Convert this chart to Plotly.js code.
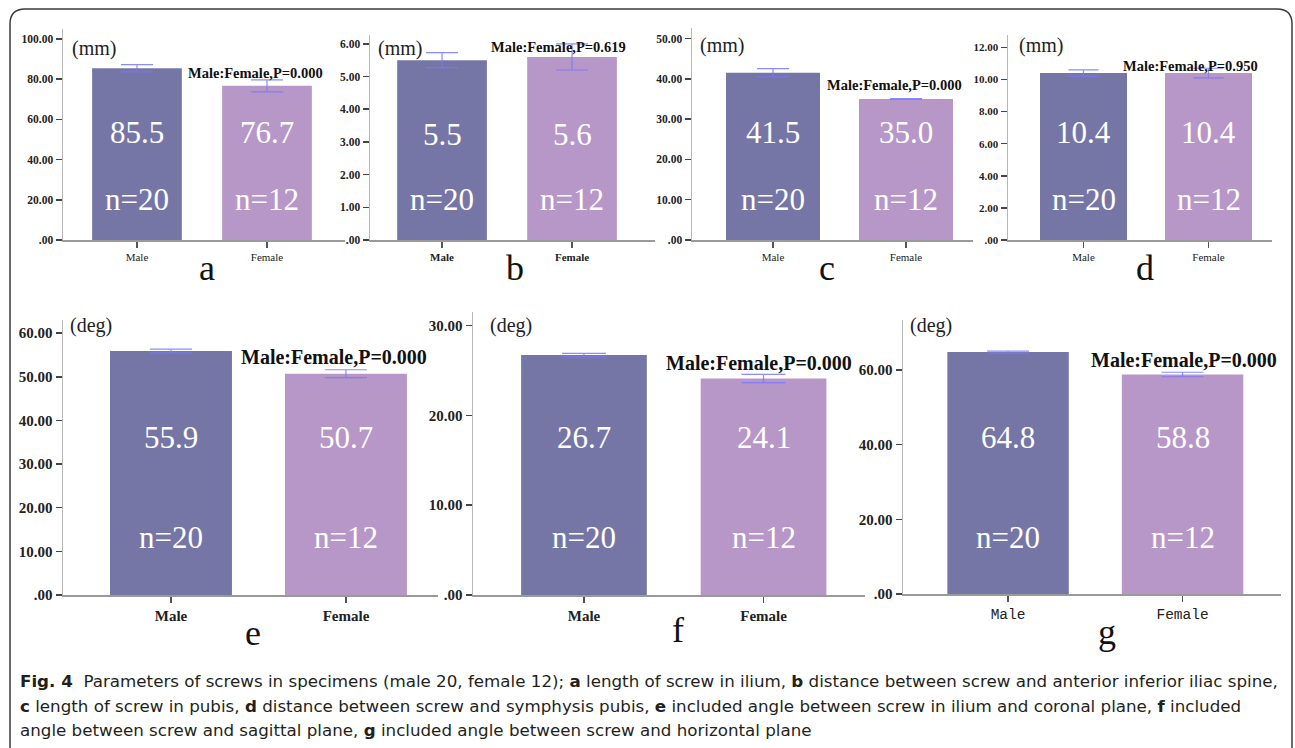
<!DOCTYPE html>
<html>
<head>
<meta charset="utf-8">
<script src="https://cdn.plot.ly/plotly-3.0.1.min.js"></script>
<style>html,body{margin:0;padding:0;background:#fff;}#chart{width:1295px;height:748px;}</style>
</head>
<body>
<div id="chart"></div>
<script>
// ---------------- data ----------------
const categories = ["Male", "Female"];
const nCounts = [20, 12];

const meansA = [85.5, 76.7];  const errA = [1.8, 3.0];
const meansB = [5.5, 5.6];    const errB = [0.23, 0.40];
const meansC = [41.5, 35.0];  const errC = [1.0, 0.1];
const meansD = [10.4, 10.4];  const errD = [0.2, 0.3];
const meansE = [55.9, 50.7];  const errE = [0.45, 0.9];
const meansF = [26.7, 24.1];  const errF = [0.2, 0.45];
const meansG = [64.8, 58.8];  const errG = [0.25, 0.6];

const ticksA = [0, 20, 40, 60, 80, 100];
const ticksB = [0, 1, 2, 3, 4, 5, 6];
const ticksC = [0, 10, 20, 30, 40, 50];
const ticksD = [0, 2, 4, 6, 8, 10, 12];
const ticksE = [0, 10, 20, 30, 40, 50, 60];
const ticksF = [0, 10, 20, 30];
const ticksG = [0, 20, 40, 60];

const pValues = ["0.000", "0.619", "0.000", "0.950", "0.000", "0.000", "0.000"];
const unitLabels = ["(mm)", "(mm)", "(mm)", "(mm)", "(deg)", "(deg)", "(deg)"];
const panelLetters = ["a", "b", "c", "d", "e", "f", "g"];

const captionLines = [
  "<b>Fig. 4</b>\u00a0\u00a0Parameters of screws in specimens (male 20, female 12); <b>a</b> length of screw in ilium, <b>b</b> distance between screw and anterior inferior iliac spine,",
  "<b>c</b> length of screw in pubis, <b>d</b> distance between screw and symphysis pubis, <b>e</b> included angle between screw in ilium and coronal plane, <b>f</b> included",
  "angle between screw and sagittal plane, <b>g</b> included angle between screw and horizontal plane"
];

// ---------------- layout config ----------------
const W = 1295, H = 748;
const SERIF = "Liberation Serif";
const MONO = "Liberation Mono";
const SANS = "DejaVu Sans";
const MALE_COL = "#7676a6", FEMALE_COL = "#b797c7";
const ERR_COL = "rgba(120,120,250,0.85)";

const panels = [
  {means: meansA, err: errA, ticks: ticksA, xpx: [63, 345], xr: [-0.569, 1.6], ybot: 240, ytop: 29, yr: [0, 105], bw: 0.69,
   xfont: {size: 11, weight: "normal", family: SERIF}, yfs: 11.5, pfs: 14.5, pc: [255, 73], unit: [70, 48], letter: [207, 268], valY: 133, nY: 200, cap: 16, ls: 36},
  {means: meansB, err: errB, ticks: ticksB, xpx: [370, 655], xr: [-0.554, 1.638], ybot: 240, ytop: 35, yr: [0, 6.27], bw: 0.69,
   xfont: {size: 11, weight: "bold", family: SERIF}, yfs: 11.5, pfs: 14.5, pc: [558, 47], unit: [376, 48], letter: [515, 268], valY: 134, nY: 200, cap: 16, ls: 36},
  {means: meansC, err: errC, ticks: ticksC, xpx: [692, 973], xr: [-0.609, 1.504], ybot: 240, ytop: 28, yr: [0, 52.6], bw: 0.707,
   xfont: {size: 11, weight: "normal", family: SERIF}, yfs: 11.5, pfs: 14.5, pc: [895, 85], unit: [698, 45], letter: [827, 268], valY: 133, nY: 200, cap: 16, ls: 36},
  {means: meansD, err: errD, ticks: ticksD, xpx: [1008, 1272], xr: [-0.604, 1.508], ybot: 240, ytop: 35, yr: [0, 12.77], bw: 0.696,
   xfont: {size: 11, weight: "normal", family: SERIF}, yfs: 11, pfs: 14.5, pc: [1190, 66], unit: [1017, 45], letter: [1145, 268], valY: 133, nY: 200, cap: 15, ls: 36},
  {means: meansE, err: errE, ticks: ticksE, xpx: [63, 438], xr: [-0.617, 1.526], ybot: 595, ytop: 320, yr: [0, 63], bw: 0.697,
   xfont: {size: 15, weight: "bold", family: SERIF}, yfs: 15, pfs: 20, pc: [334, 357], unit: [68, 325], letter: [253, 633], valY: 437, nY: 537, cap: 21, ls: 36},
  {means: meansF, err: errF, ticks: ticksF, xpx: [473, 865], xr: [-0.618, 1.565], ybot: 595, ytop: 312, yr: [0, 31.5], bw: 0.70,
   xfont: {size: 15, weight: "bold", family: SERIF}, yfs: 15, pfs: 20, pc: [759, 363], unit: [488, 325], letter: [678, 630], valY: 437, nY: 537, cap: 22, ls: 36},
  {means: meansG, err: errG, ticks: ticksG, xpx: [903, 1281], xr: [-0.602, 1.564], ybot: 594, ytop: 320, yr: [0, 73.4], bw: 0.696,
   xfont: {size: 14.5, weight: "normal", family: MONO}, yfs: 15, pfs: 20, pc: [1184, 360], unit: [908, 325], letter: [1107, 632], valY: 437, nY: 537, cap: 21, ls: 36}
];

const fx = px => px / W;
const fy = py => 1 - py / H;

const data = [];
const layout = {
  width: W, height: H,
  margin: {l: 0, r: 0, t: 0, b: 0},
  paper_bgcolor: "#fff", plot_bgcolor: "rgba(0,0,0,0)",
  showlegend: false,
  font: {family: SERIF},
  annotations: [],
  shapes: []
};

panels.forEach((p, i) => {
  const sx = i === 0 ? "" : String(i + 1);
  data.push({
    type: "bar",
    x: categories,
    y: p.means,
    width: [p.bw, p.bw],
    marker: {color: [MALE_COL, FEMALE_COL], line: {width: 0}},
    error_y: {type: "data", array: p.err, visible: true, color: ERR_COL, thickness: 1.2, width: p.cap},
    xaxis: "x" + sx, yaxis: "y" + sx,
    hoverinfo: "skip"
  });
  layout["xaxis" + sx] = {
    domain: [fx(p.xpx[0]), fx(p.xpx[1])],
    anchor: "y" + sx,
    type: "category",
    range: p.xr,
    showgrid: false, zeroline: false,
    showline: true, linecolor: "#9a9a9a", linewidth: 1.5,
    ticks: "outside", ticklen: 6, tickwidth: 1.5, tickcolor: "#555",
    tickfont: {family: p.xfont.family, size: p.xfont.size, weight: p.xfont.weight, color: "#222"},
    fixedrange: true
  };
  layout["yaxis" + sx] = {
    domain: [fy(p.ybot), fy(p.ytop)],
    anchor: "x" + sx,
    range: p.yr,
    showgrid: false, zeroline: false,
    showline: true, linecolor: "#b8b8b8", linewidth: 1.5,
    ticks: "outside", ticklen: 6, tickwidth: 1.5, tickcolor: "#444",
    tickmode: "array", tickvals: p.ticks,
    ticktext: p.ticks.map(v => v === 0 ? ".00" : v.toFixed(2)),
    tickfont: {family: SERIF, size: p.yfs, weight: "bold", color: "#222"},
    fixedrange: true
  };
  // value and n labels inside bars
  p.means.forEach((m, j) => {
    layout.annotations.push({
      xref: "x" + sx, yref: "paper", x: j, y: fy(p.valY), text: m.toFixed(1),
      showarrow: false, xanchor: "center", yanchor: "middle",
      font: {family: SERIF, size: 31, color: "#ffffff"}
    });
    layout.annotations.push({
      xref: "x" + sx, yref: "paper", x: j, y: fy(p.nY), text: "n=" + nCounts[j],
      showarrow: false, xanchor: "center", yanchor: "middle",
      font: {family: SERIF, size: 31, color: "#ffffff"}
    });
  });
  // p-value annotation
  layout.annotations.push({
    xref: "paper", yref: "paper", x: fx(p.pc[0]), y: fy(p.pc[1]),
    text: categories[0] + ":" + categories[1] + ",P=" + pValues[i],
    showarrow: false, xanchor: "center", yanchor: "middle",
    font: {family: SERIF, size: p.pfs, weight: "bold", color: "#111"}
  });
  // unit label
  layout.annotations.push({
    xref: "paper", yref: "paper", x: fx(p.unit[0]), y: fy(p.unit[1]),
    text: unitLabels[i], showarrow: false, xanchor: "left", yanchor: "middle",
    font: {family: SERIF, size: 20, color: "#222"}
  });
  // panel letter
  layout.annotations.push({
    xref: "paper", yref: "paper", x: fx(p.letter[0]), y: fy(p.letter[1]),
    text: panelLetters[i], showarrow: false, xanchor: "center", yanchor: "middle",
    font: {family: SERIF, size: p.ls, color: "#111"}
  });
});

// caption
const capY = [681, 706, 730];
captionLines.forEach((t, k) => {
  layout.annotations.push({
    xref: "paper", yref: "paper", x: fx(18), y: fy(capY[k]),
    text: t, showarrow: false, xanchor: "left", yanchor: "middle",
    font: {family: SANS, size: 16.7, color: "#231f20"}
  });
});

// frame with rounded top corners
const x0 = fx(10), x1 = fx(1292), yt = fy(9), yb = -0.02;
const rx = 15 / W, ry = 15 / H;
layout.shapes.push({
  type: "path", xref: "paper", yref: "paper",
  path: `M ${x0},${yb} L ${x0},${yt - ry} Q ${x0},${yt} ${x0 + rx},${yt} L ${x1 - rx},${yt} Q ${x1},${yt} ${x1},${yt - ry} L ${x1},${yb}`,
  line: {color: "#3a3a3a", width: 1.5}
});

Plotly.newPlot("chart", data, layout, {staticPlot: true, displayModeBar: false});
</script>
</body>
</html>
